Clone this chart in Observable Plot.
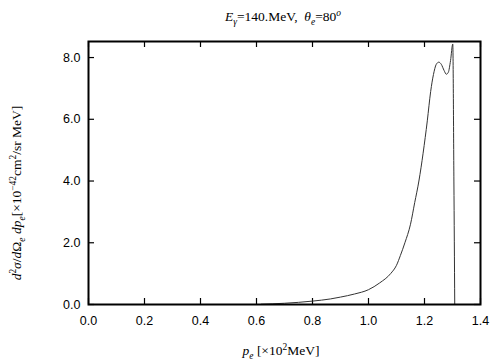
<!DOCTYPE html>
<html>
<head>
<meta charset="utf-8">
<script src="https://cdn.jsdelivr.net/npm/d3@7"></script>
<script src="https://cdn.jsdelivr.net/npm/@observablehq/plot@0.6"></script>
<style>
  html, body { margin: 0; padding: 0; background: #fff; }
  #wrap { position: relative; width: 504px; height: 360px; overflow: hidden; }
  .serif { font-family: "Liberation Serif", "DejaVu Serif", serif; color: #000; position: absolute; white-space: nowrap; }
  #title { left: 0; width: 566px; top: 9px; text-align: center; font-size: 13.5px; }
  #xlab { left: 0; width: 562px; top: 343px; text-align: center; font-size: 13.5px; }
  #ylab { left: 17px; top: 193px; font-size: 13.5px; transform: translate(-50%, -50%) rotate(-90deg); }
  sub, sup { font-size: 70%; line-height: 0; }
</style>
</head>
<body>
<div id="wrap">
  <div id="chart"></div>
  <div id="title" class="serif"><i>E</i><sub><i>γ</i></sub>=140.MeV, &nbsp;<i>θ</i><sub><i>e</i></sub>=80<sup><i>o</i></sup></div>
  <div id="ylab" class="serif"><i>d</i><sup>2</sup><i>σ</i>/<i>d</i>Ω<sub><i>e</i></sub> <i>dp</i><sub><i>e</i></sub>[×10<sup>−42</sup>cm<sup>2</sup>/sr MeV]</div>
  <div id="xlab" class="serif"><i>p</i><sub><i>e</i></sub> [×10<sup>2</sup>MeV]</div>
</div>
<script>
const pe = [0.617, 0.70, 0.80, 0.864, 0.90, 0.95, 1.00, 1.04, 1.079, 1.10, 1.114, 1.13, 1.15, 1.165, 1.18, 1.195, 1.21, 1.222, 1.232, 1.242, 1.251, 1.26, 1.27, 1.278, 1.285, 1.293, 1.301, 1.305, 1.308];
const sigma = [0.01, 0.04, 0.11, 0.18, 0.24, 0.34, 0.48, 0.70, 1.0, 1.27, 1.59, 2.0, 2.6, 3.3, 4.0, 4.9, 5.95, 6.9, 7.45, 7.78, 7.85, 7.78, 7.58, 7.46, 7.52, 7.9, 8.44, 4.0, 0.0];
const xTicks = [0.0, 0.2, 0.4, 0.6, 0.8, 1.0, 1.2, 1.4];
const yTicks = [0.0, 2.0, 4.0, 6.0, 8.0];
const xDomain = [0, 1.4];
const yDomain = [0, 8.52];

const W = 504, H = 360, ML = 88, MR = 24, MT = 41, MB = 56, TL = 6;
const plotW = W - ML - MR, plotH = H - MT - MB;
// inward tick length expressed in data units of each scale
const tx = (xDomain[1] - xDomain[0]) * TL / plotW;
const ty = (yDomain[1] - yDomain[0]) * TL / plotH;

const data = pe.map((p, i) => ({p, s: sigma[i]}));
const fmt = d3.format(".1f");
const tickFont = {fontSize: 12.5, fontFamily: "Liberation Sans, Arial, sans-serif", fill: "#000"};
const tickStyle = {stroke: "#000", strokeWidth: 1.2};

const chart = Plot.plot({
  width: W,
  height: H,
  marginLeft: ML,
  marginRight: MR,
  marginTop: MT,
  marginBottom: MB,
  style: {background: "#fff", color: "#000"},
  x: {domain: xDomain},
  y: {domain: yDomain},
  marks: [
    Plot.ruleX(xTicks, {x: d => d, y1: yDomain[0], y2: yDomain[0] + ty, ...tickStyle}),
    Plot.ruleX(xTicks, {x: d => d, y1: yDomain[1] - ty, y2: yDomain[1], ...tickStyle}),
    Plot.ruleY(yTicks, {y: d => d, x1: xDomain[0], x2: xDomain[0] + tx, ...tickStyle}),
    Plot.ruleY(yTicks, {y: d => d, x1: xDomain[1] - tx, x2: xDomain[1], ...tickStyle}),
    Plot.axisX({ticks: xTicks, anchor: "bottom", tickSize: 0, tickPadding: 12, tickFormat: fmt, label: null, ...tickFont}),
    Plot.axisY({ticks: yTicks, anchor: "left", tickSize: 0, tickPadding: 8, tickFormat: fmt, label: null, ...tickFont}),
    Plot.line(data, {x: "p", y: "s", stroke: "#333", strokeWidth: 1, curve: "monotone-x"}),
    Plot.frame({stroke: "#000", strokeWidth: 2})
  ]
});
document.getElementById("chart").appendChild(chart);
</script>
</body>
</html>
